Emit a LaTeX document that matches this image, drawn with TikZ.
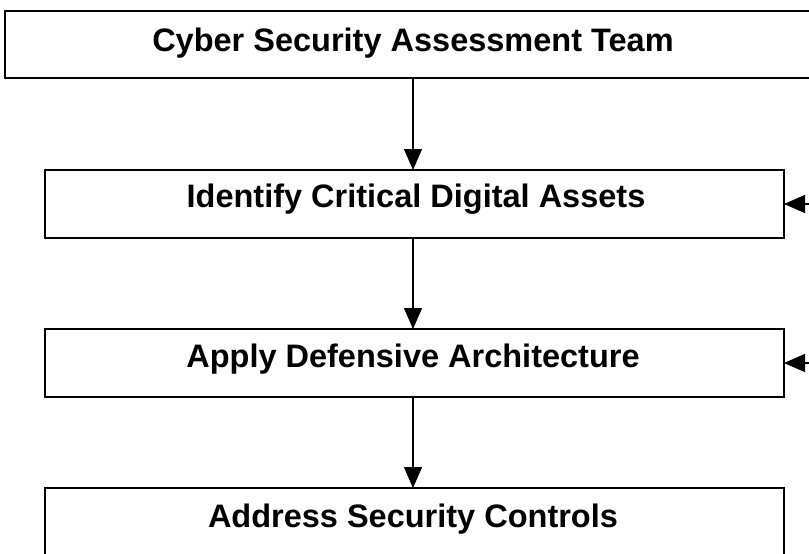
\documentclass[tikz,border=0pt]{standalone}
\usepackage{fontspec}
\setmainfont{Liberation Sans}
\usetikzlibrary{arrows.meta}
\begin{document}
\begin{tikzpicture}[x=1pt,y=-1pt,
  stagebox/.style={draw=black,line width=1.6pt,fill=white},
  label/.style={font=\bfseries\fontsize{32.5}{36}\selectfont,inner sep=0pt},
  flow/.style={draw=black,line width=1.3pt,-{Triangle[length=21pt,width=18pt]}}]
\useasboundingbox (0,0) rectangle (809,554);
% boxes
\draw[stagebox] (5,11) rectangle (830,78);
\coordinate (b1t) at (413,78);
\draw[stagebox] (45,170) rectangle (784,238);
\draw[stagebox] (45,329) rectangle (784,397);
\draw[stagebox] (45,488) rectangle (784,580);
% box anchors
\coordinate (b2t) at (413,170);
\coordinate (b2b) at (413,238);
\coordinate (b2r) at (784,204);
\coordinate (b3t) at (413,329);
\coordinate (b3b) at (413,397);
\coordinate (b3r) at (784,363);
\coordinate (b4t) at (413,488);
\coordinate (in1) at (809,204);
\coordinate (in2) at (809,363);
% labels
\node[label] (t1) at (413,43) {Cyber Security Assessment Team};
\node[label] (t2) at (416,199) {Identify Critical Digital Assets};
\node[label] (t3) at (413,359) {Apply Defensive Architecture};
\node[label] (t4) at (413,519) {Address Security Controls};
% connectors
\draw[flow] (b1t) -- (b2t);
\draw[flow] (b2b) -- (b3t);
\draw[flow] (b3b) -- (b4t);
\draw[flow] (in1) -- (b2r);
\draw[flow] (in2) -- (b3r);
\end{tikzpicture}
\end{document}
